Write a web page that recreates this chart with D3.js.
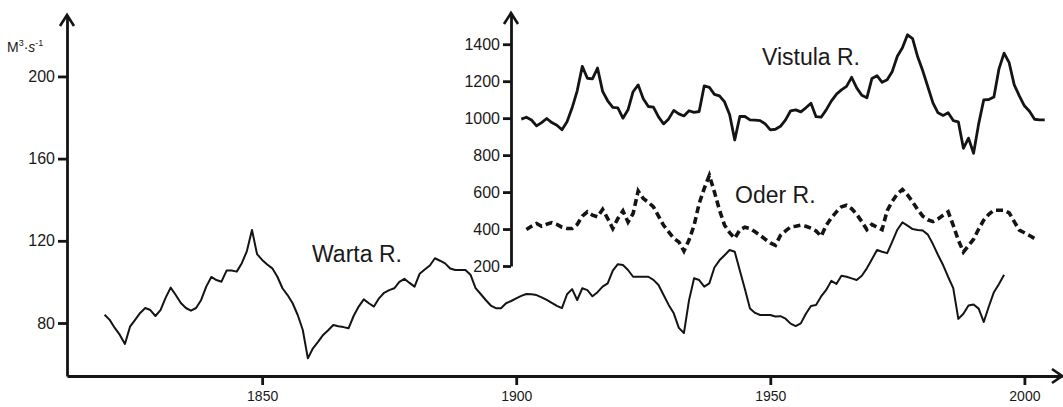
<!DOCTYPE html>
<html>
<head>
<meta charset="utf-8">
<script src="https://cdn.jsdelivr.net/npm/d3@7"></script>
<style>
  body { margin: 0; background: #fff; }
  svg { display: block; font-family: "Liberation Sans", Arial, sans-serif; }
  .tick text { fill: #1a1a1a; }
</style>
</head>
<body>
<svg width="1063" height="407"></svg>
<script>
// river flow series [year, m3/s]
const warta = [
  [1819, 84], [1820, 81.5], [1821, 77.6], [1822, 74.2], [1823, 69.8], [1824, 78.2], [1825, 81.5],
  [1826, 84.9], [1827, 87.3], [1828, 86.3], [1829, 83.4], [1830, 86.3], [1831, 92.2], [1832, 97.2],
  [1833, 93.6], [1834, 89.7], [1835, 87.3], [1836, 86], [1837, 87.3], [1838, 91.2], [1839, 97.7],
  [1840, 102.4], [1841, 100.9], [1842, 100.1], [1843, 105.5], [1844, 105.5], [1845, 105], [1846, 109.1],
  [1847, 115], [1848, 125.3], [1849, 113.5], [1850, 110.7], [1851, 108.5], [1852, 106.6], [1853, 102.5],
  [1854, 96.9], [1855, 93.6], [1856, 89.6], [1857, 83.9], [1858, 76.6], [1859, 62.8], [1860, 67.7],
  [1861, 70.8], [1862, 74.2], [1863, 76.5], [1864, 79], [1865, 78.4], [1866, 78], [1867, 77.4],
  [1868, 83.4], [1869, 88], [1870, 91.5], [1871, 89.6], [1872, 88], [1873, 92], [1874, 94.7],
  [1875, 96], [1876, 96.9], [1877, 100], [1878, 101.5], [1879, 99.5], [1880, 97.7], [1881, 104],
  [1882, 106], [1883, 108], [1884, 111.5], [1885, 110.3], [1886, 109], [1887, 106.5], [1888, 105.8],
  [1889, 105.8], [1890, 105.8], [1891, 103.5], [1892, 97], [1893, 94.1], [1894, 91.2], [1895, 88.5],
  [1896, 87.2], [1897, 87.2], [1898, 89.6], [1899, 90.7], [1900, 92], [1901, 93.2], [1902, 94.1],
  [1903, 94], [1904, 93.6], [1905, 92.5], [1906, 91.2], [1907, 89.8], [1908, 88.3], [1909, 87.2],
  [1910, 94], [1911, 96.5], [1912, 91.2], [1913, 96.9], [1914, 96], [1915, 93], [1916, 95],
  [1917, 97.7], [1918, 99.3], [1919, 105.5], [1920, 108.6], [1921, 108.2], [1922, 105.8], [1923, 102.5],
  [1924, 102.5], [1925, 102.5], [1926, 102.5], [1927, 101], [1928, 98.5], [1929, 93.6], [1930, 88.8],
  [1931, 84.7], [1932, 77.6], [1933, 75.1], [1934, 91], [1935, 101.8], [1936, 100.9], [1937, 97.7],
  [1938, 99.3], [1939, 107], [1940, 110.5], [1941, 113], [1942, 115.5], [1943, 114.7], [1944, 105.5],
  [1945, 96.5], [1946, 87], [1947, 84.9], [1948, 83.9], [1949, 83.9], [1950, 83.9], [1951, 83.2],
  [1952, 83.3], [1953, 82.1], [1954, 79.7], [1955, 78.5], [1956, 79.8], [1957, 84.5], [1958, 88.3],
  [1959, 88.8], [1960, 92.9], [1961, 96.1], [1962, 100.5], [1963, 99], [1964, 103], [1965, 102.5],
  [1966, 101.7], [1967, 100.9], [1968, 103], [1969, 106.6], [1970, 111], [1971, 115.5], [1972, 114.7],
  [1973, 114], [1974, 119.6], [1975, 125.4], [1976, 129], [1977, 127.4], [1978, 125.7], [1979, 125.3],
  [1980, 125], [1981, 123], [1982, 118.4], [1983, 113.1], [1984, 108.2], [1985, 102.4], [1986, 97],
  [1987, 82], [1988, 84.5], [1989, 88.5], [1990, 89], [1991, 87], [1992, 80.5], [1993, 88],
  [1994, 95], [1995, 99], [1996, 103.5]
];

const vistula = [
  [1901, 995], [1902, 1005], [1903, 990], [1904, 958], [1905, 976], [1906, 998], [1907, 976],
  [1908, 962], [1909, 937], [1910, 980], [1911, 1056], [1912, 1148], [1913, 1280], [1914, 1216],
  [1915, 1213], [1916, 1271], [1917, 1145], [1918, 1094], [1919, 1058], [1920, 1056], [1921, 1000],
  [1922, 1045], [1923, 1143], [1924, 1180], [1925, 1105], [1926, 1063], [1927, 1060], [1928, 1007],
  [1929, 969], [1930, 996], [1931, 1042], [1932, 1023], [1933, 1012], [1934, 1040], [1935, 1031],
  [1936, 1036], [1937, 1175], [1938, 1167], [1939, 1129], [1940, 1121], [1941, 1088], [1942, 1018],
  [1943, 882], [1944, 1009], [1945, 1009], [1946, 991], [1947, 989], [1948, 987], [1949, 969],
  [1950, 937], [1951, 940], [1952, 956], [1953, 991], [1954, 1040], [1955, 1045], [1956, 1034],
  [1957, 1056], [1958, 1081], [1959, 1008], [1960, 1005], [1961, 1045], [1962, 1092], [1963, 1129],
  [1964, 1153], [1965, 1172], [1966, 1221], [1967, 1164], [1968, 1124], [1969, 1110], [1970, 1215],
  [1971, 1230], [1972, 1194], [1973, 1208], [1974, 1253], [1975, 1335], [1976, 1381], [1977, 1451],
  [1978, 1430], [1979, 1332], [1980, 1256], [1981, 1170], [1982, 1083], [1983, 1029], [1984, 1015],
  [1985, 1029], [1986, 987], [1987, 980], [1988, 837], [1989, 892], [1990, 810], [1991, 969],
  [1992, 1099], [1993, 1101], [1994, 1115], [1995, 1267], [1996, 1352], [1997, 1300], [1998, 1180],
  [1999, 1121], [2000, 1067], [2001, 1037], [2002, 994], [2003, 991], [2004, 991]
];

const oder = [
  [1902, 397], [1903, 415], [1904, 430], [1905, 415], [1906, 426], [1907, 435], [1908, 425],
  [1909, 410], [1910, 403], [1911, 403], [1912, 425], [1913, 470], [1914, 493], [1915, 475],
  [1916, 466], [1917, 506], [1918, 457], [1919, 403], [1920, 457], [1921, 498], [1922, 438],
  [1923, 484], [1924, 606], [1925, 565], [1926, 545], [1927, 520], [1928, 470], [1929, 420],
  [1930, 385], [1931, 350], [1932, 330], [1933, 281], [1934, 340], [1935, 420], [1936, 538],
  [1937, 620], [1938, 690], [1939, 601], [1940, 502], [1941, 421], [1942, 380], [1943, 350],
  [1944, 395], [1945, 410], [1946, 403], [1947, 385], [1948, 366], [1949, 345], [1950, 325],
  [1951, 312], [1952, 366], [1953, 390], [1954, 411], [1955, 415], [1956, 421], [1957, 415],
  [1958, 405], [1959, 390], [1960, 361], [1961, 420], [1962, 460], [1963, 493], [1964, 520],
  [1965, 529], [1966, 510], [1967, 480], [1968, 440], [1969, 397], [1970, 425], [1971, 410],
  [1972, 397], [1973, 500], [1974, 550], [1975, 590], [1976, 614], [1977, 585], [1978, 547],
  [1979, 505], [1980, 470], [1981, 450], [1982, 440], [1983, 455], [1984, 475], [1985, 493],
  [1986, 420], [1987, 340], [1988, 276], [1989, 310], [1990, 345], [1991, 400], [1992, 448],
  [1993, 480], [1994, 502], [1995, 502], [1996, 502], [1997, 488], [1998, 440], [1999, 394],
  [2000, 380], [2001, 365], [2002, 349]
];

const yearTicks = [1850, 1900, 1950, 2000];
const mainTicks = [80, 120, 160, 200];
const insetTicks = [200, 400, 600, 800, 1000, 1200, 1400];

const svg = d3.select("svg");
const ink = "#141414";

// scales
const x = d3.scaleLinear().domain([1811.6, 2007.4]).range([67, 1062]);
const y = d3.scaleLinear().domain([54.2, 229.9]).range([376, 15]);
const yIn = d3.scaleLinear().domain([200, 1569]).range([266, 13]);
const inX = 511;

function styleAxis(g, size) {
  g.selectAll(".domain, .tick line").attr("stroke", ink).attr("stroke-width", 2.8);
  g.selectAll(".tick text").style("font-size", size + "px");
}

// main axes
svg.append("g")
  .attr("transform", "translate(0,376)")
  .call(d3.axisBottom(x).tickValues(yearTicks).tickFormat(d3.format("d"))
    .tickSize(9).tickSizeOuter(0).tickPadding(6))
  .call(g => styleAxis(g, 14));

svg.append("g")
  .attr("transform", "translate(67,0)")
  .call(d3.axisLeft(y).tickValues(mainTicks).tickFormat(d3.format("d"))
    .tickSize(9).tickSizeOuter(0).tickPadding(3))
  .call(g => styleAxis(g, 16));

// inset axis
svg.append("g")
  .attr("transform", `translate(${inX},0)`)
  .call(d3.axisLeft(yIn).tickValues(insetTicks).tickFormat(d3.format("d"))
    .tickSize(8).tickSizeOuter(0).tickPadding(3))
  .call(g => styleAxis(g, 16));

// arrow heads
const arrows = [
  `M${67 - 7},${15 + 11}L67,15L${67 + 7},${15 + 11}`,
  `M${inX - 7},${13 + 11}L${inX},13L${inX + 7},${13 + 11}`,
  `M${1062 - 10},${376 - 7}L1062,376L${1062 - 10},${376 + 7}`
];
svg.selectAll("path.arrow").data(arrows).enter().append("path")
  .attr("class", "arrow")
  .attr("d", d => d)
  .attr("fill", "none")
  .attr("stroke", ink)
  .attr("stroke-width", 2.6);

// lines
const lineMain = d3.line().x(d => x(d[0])).y(d => y(d[1]));
const lineIn = d3.line().x(d => x(d[0])).y(d => yIn(d[1]));

svg.append("path").datum(warta)
  .attr("d", lineMain).attr("fill", "none")
  .attr("stroke", ink).attr("stroke-width", 2).attr("stroke-linejoin", "round");

svg.append("path").datum(vistula)
  .attr("d", lineIn).attr("fill", "none")
  .attr("stroke", ink).attr("stroke-width", 2.8).attr("stroke-linejoin", "round");

svg.append("path").datum(oder)
  .attr("d", lineIn).attr("fill", "none")
  .attr("stroke", ink).attr("stroke-width", 3.6).attr("stroke-dasharray", "7,4");

// labels
const labels = [
  { text: "Warta R.", x: 312, y: 262 },
  { text: "Vistula R.", x: 762, y: 65 },
  { text: "Oder R.", x: 735, y: 203 }
];
svg.selectAll("text.river").data(labels).enter().append("text")
  .attr("class", "river")
  .attr("x", d => d.x).attr("y", d => d.y)
  .style("font-size", "23px")
  .attr("fill", "#1a1a1a")
  .text(d => d.text);

// unit
const unit = svg.append("text").attr("x", 7).attr("y", 52)
  .style("font-size", "14px").attr("fill", "#1a1a1a");
unit.append("tspan").text("M");
unit.append("tspan").attr("dy", -6).style("font-size", "9px").text("3");
unit.append("tspan").attr("dy", 6).text("·");
unit.append("tspan").style("font-style", "italic").text("s");
unit.append("tspan").attr("dy", -6).style("font-size", "9px").text("-1");
</script>
</body>
</html>
